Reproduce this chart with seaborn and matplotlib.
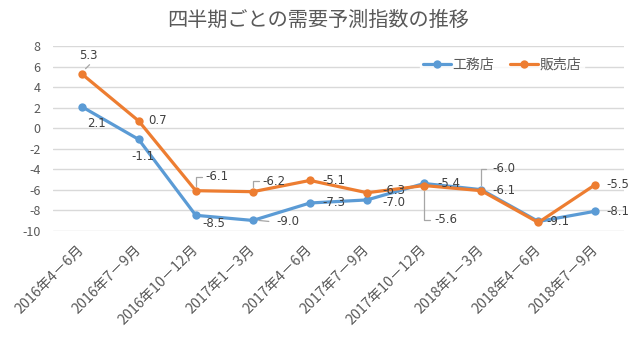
import matplotlib
matplotlib.use("Agg")
import matplotlib.pyplot as plt
import seaborn as sns
import pandas as pd
import numpy as np

quarters = ["2016年4－6月", "2016年7－9月", "2016年10－12月", "2017年1－3月",
            "2017年4－6月", "2017年7－9月", "2017年10－12月", "2018年1－3月",
            "2018年4－6月", "2018年7－9月"]
series_names = ["工務店", "販売店"]
koumuten = [2.1, -1.1, -8.5, -9.0, -7.3, -7.0, -5.4, -6.0, -9.1, -8.1]
hanbaiten = [5.3, 0.7, -6.1, -6.2, -5.1, -6.3, -5.6, -6.1, -9.2, -5.5]
# which points carry a data label (the overlapping one at 2018年4-6月 is hidden)
label_koumuten = [True] * 10
label_hanbaiten = [True] * 8 + [False, True]
yticks = list(range(-10, 9, 2))
title = "四半期ごとの需要予測指数の推移"

colors = {"工務店": "#5B9BD5", "販売店": "#ED7D31"}

sns.set_theme(style="white")
plt.rcParams["font.family"] = ["Noto Sans CJK JP", "DejaVu Sans"]

df = pd.DataFrame({
    "quarter": quarters * 2,
    "value": koumuten + hanbaiten,
    "series": [series_names[0]] * len(quarters) + [series_names[1]] * len(quarters),
})

fig = plt.figure(figsize=(6.4, 3.6), dpi=100)
ax = fig.add_axes([53 / 640, 1 - 230.7 / 360, 571 / 640, (230.7 - 46) / 360])

sns.lineplot(data=df, x="quarter", y="value", hue="series", palette=colors,
             marker="o", markersize=6, markeredgewidth=0, linewidth=2.3,
             sort=False, ax=ax)

ax.set_xlim(-0.5, len(quarters) - 0.5)
ax.set_ylim(-10, 8)
ax.set_yticks(yticks)
ax.set_yticklabels([str(t) for t in yticks])
ax.set_xlabel("")
ax.set_ylabel("")
for s in ax.spines.values():
    s.set_visible(False)
ax.yaxis.grid(True, color="#D9D9D9", linewidth=1.0)
ax.xaxis.grid(False)
ax.set_axisbelow(True)
ax.tick_params(axis="y", length=0, pad=9, labelsize=9, labelcolor="#595959")
ax.tick_params(axis="x", length=0, pad=12, labelsize=10.3, labelcolor="#595959")
for lab in ax.get_xticklabels():
    lab.set_rotation(45)
    lab.set_ha("right")
    lab.set_va("center")
    lab.set_rotation_mode("anchor")

fig.text(318 / 640, 1 - 20 / 360, title, ha="center", va="center",
         fontsize=14.5, color="#595959")

leg = ax.legend(loc="center", bbox_to_anchor=(502 / 640, 1 - 65 / 360),
                bbox_transform=fig.transFigure, ncol=2, frameon=True,
                fontsize=10, handlelength=2.0, columnspacing=1.2,
                handletextpad=0.1, borderpad=0.2)
leg.get_frame().set_facecolor("white")
leg.get_frame().set_edgecolor("white")
for t in leg.get_texts():
    t.set_color("#595959")

# label offsets in pixels (left edge of text, vertical centre; +dy = down)
off_k = [(6, 17), (-7, 17), (7, 8), (24, 1), (12, 0), (15, 3), (13, 0), (11, -21), (8, 0), (11, 0)]
off_h = [(-2, -18), (10, 0), (10, -14), (10, -10), (12, 0), (15, -2), (10, 34), (11, 0), (8, 0), (11, 0)]
leaders_k = {3: [(6, 0), (16, 1)], 7: [(0, -5), (0, -21), (5, -21)]}
leaders_h = {0: [(4, -5), (8, -9)], 2: [(0, -5), (0, -14), (6, -14)],
             3: [(0, -5), (0, -11), (6, -11)], 6: [(0, 5), (0, 34), (6, 34)]}

fig.canvas.draw()
for vals, show, offs, leads in [(koumuten, label_koumuten, off_k, leaders_k),
                                (hanbaiten, label_hanbaiten, off_h, leaders_h)]:
    for i, v in enumerate(vals):
        if not show[i]:
            continue
        dx, dy = offs[i]
        ax.annotate(f"{v:.1f}", xy=(i, v), xytext=(dx, -dy), textcoords="offset pixels",
                    ha="left", va="center", fontsize=8.5, color="#404040",
                    family=["DejaVu Sans"])
        if i in leads:
            px, py = ax.transData.transform((i, v))
            xs = [px + a for a, b in leads[i]]
            ys = [py - b for a, b in leads[i]]
            ax.plot(xs, ys, transform=None, color="#A6A6A6", linewidth=0.9)

fig.savefig("out.png", dpi=100, facecolor="white")
